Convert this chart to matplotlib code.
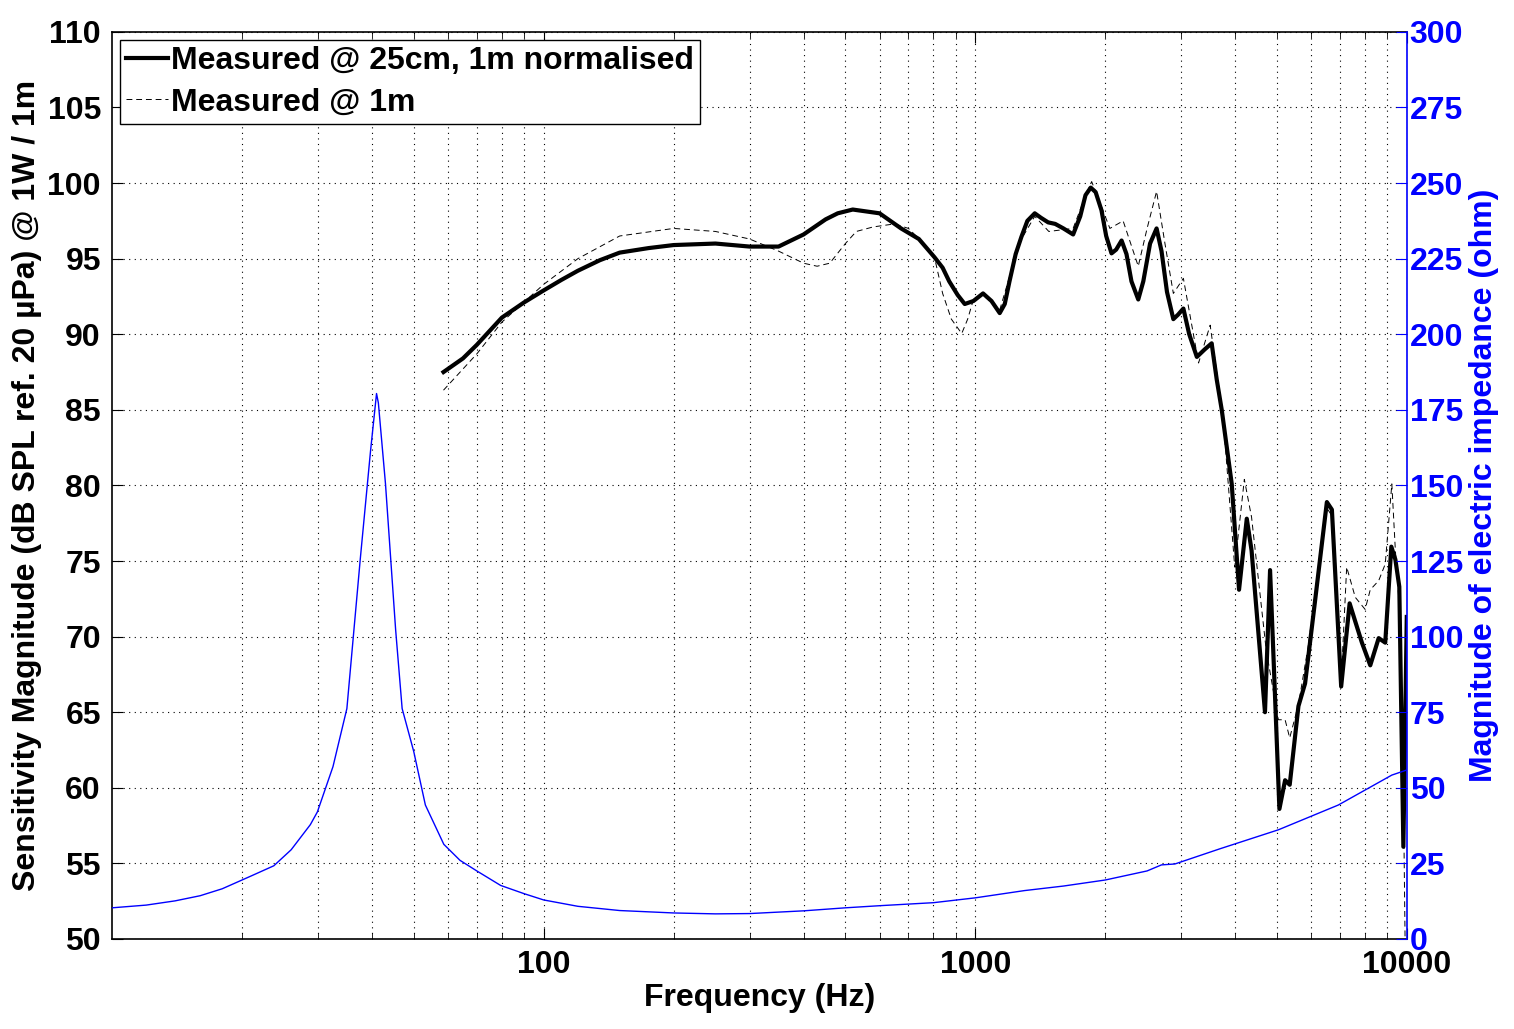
import matplotlib
matplotlib.use("Agg")
import matplotlib.pyplot as plt
from matplotlib.ticker import LogLocator, NullFormatter, FixedLocator, FixedFormatter

# ================== DATA ==================
# electric impedance (ohm), right axis
imp_freq = [10, 12, 14, 16, 18, 20.9, 23.7, 26, 28.8, 29.9, 32.5, 35.0, 37.6, 39.7,
            41.0, 41.4, 43.0, 45.4, 47.0, 50, 53.2, 58.7, 64, 70, 79.5, 90, 100,
            120, 150, 200, 250, 300, 400, 500, 600, 800, 1000, 1300, 1600, 2000,
            2500, 2700, 2900, 3683, 5036, 6934, 9225, 10000]
imp_ohm = [10.3, 11.2, 12.6, 14.3, 16.6, 20.7, 24.2, 29.5, 37.8, 42.0, 57.0, 76.2,
           125.8, 161.3, 180.4, 177.3, 150.6, 102.2, 76.2, 62.0, 44.3, 31.3, 26.0,
           22.5, 17.7, 15.0, 12.9, 10.8, 9.4, 8.6, 8.3, 8.4, 9.3, 10.3, 11.0, 12.0,
           13.6, 16.0, 17.5, 19.5, 22.5, 24.5, 24.8, 29.8, 36.1, 44.3, 54.2, 55.9]

# measured @ 25cm, 1m normalised (dB)
near_freq = [58.6, 65, 70, 80, 90, 100, 110, 120, 135, 150, 175, 200, 250, 300,
             350, 400, 450, 480, 520, 600, 673, 740, 804, 840, 870, 910, 945, 990,
             1042, 1090, 1139, 1170, 1200, 1240, 1279, 1320, 1373, 1420, 1475,
             1531, 1600, 1685, 1750, 1800, 1851, 1900, 1960, 2010, 2068, 2120,
             2182, 2240, 2300, 2385, 2450, 2540, 2630, 2700, 2780, 2876, 2950,
             3034, 3130, 3260, 3400, 3528, 3625, 3723, 3927, 4083, 4255, 4365,
             4689, 4818, 4900, 5064, 5220, 5350, 5605, 5807, 6127, 6523, 6700,
             7040, 7365, 7590, 7864, 8222, 8600, 8906, 9200, 9400, 9600, 9810, 9990]
near_db = [87.5, 88.4, 89.3, 91.1, 92.1, 92.9, 93.6, 94.2, 94.9, 95.4, 95.7, 95.9,
           96.0, 95.8, 95.8, 96.6, 97.6, 98.0, 98.25, 98.0, 97.0, 96.3, 95.1,
           94.4, 93.5, 92.6, 92.0, 92.2, 92.7, 92.2, 91.4, 92.0, 93.5, 95.3,
           96.45, 97.5, 98.0, 97.7, 97.4, 97.3, 97.0, 96.6, 97.8, 99.2, 99.7,
           99.4, 98.2, 96.5, 95.35, 95.6, 96.2, 95.3, 93.5, 92.3, 93.5, 96.0,
           97.0, 95.5, 92.8, 91.0, 91.3, 91.7, 90.0, 88.5, 89.0, 89.4, 87.0,
           85.0, 80.1, 73.1, 77.8, 75.7, 65.0, 74.4, 69.1, 58.6, 60.5, 60.2,
           65.4, 66.9, 72.4, 78.9, 78.4, 66.7, 72.2, 71.0, 69.6, 68.1, 69.9,
           69.6, 75.95, 75.1, 73.3, 56.1, 71.3]

# measured @ 1m (dB)
far_freq = [58.6, 70, 80, 100, 120, 150, 200, 250, 300, 350, 400, 430, 460, 500,
            530, 580, 650, 700, 760, 804, 840, 880, 930, 960, 990, 1042, 1139,
            1200, 1279, 1373, 1480, 1685, 1780, 1860, 1950, 2050, 2200, 2385,
            2500, 2630, 2750, 2876, 3034, 3290, 3500, 3625, 3750, 3990, 4200,
            4365, 4720, 5036, 5220, 5350, 5605, 5900, 6127, 6523, 6700, 7040,
            7250, 7590, 8000, 8222, 8600, 8906, 9225, 9400, 9600, 9810, 9990]
far_db = [86.3, 88.7, 90.8, 93.3, 95.0, 96.5, 97.0, 96.8, 96.3, 95.5, 94.7, 94.5,
          94.7, 96.0, 96.8, 97.1, 97.3, 97.0, 96.0, 95.1, 92.7, 91.0, 90.05, 91.0,
          92.3, 92.6, 91.6, 93.8, 96.3, 97.8, 96.8, 97.0, 98.8, 100.1, 98.6, 97.0,
          97.5, 94.5, 97.0, 99.45, 96.0, 92.7, 93.7, 88.1, 90.6, 87.5, 84.5, 74.6,
          80.4, 77.9, 69.1, 64.5, 64.5, 63.3, 65.5, 69.3, 72.8, 78.5, 78.0, 67.0,
          74.6, 72.6, 71.8, 73.1, 73.7, 74.8, 80.1, 75.7, 72.0, 60.0, 40.0]

x_ticks = [100, 1000, 10000]
y_ticks = list(range(50, 111, 5))
imp_ticks = list(range(0, 301, 25))

# ================== CHART ==================
plt.rcParams["font.family"] = ["Liberation Sans", "DejaVu Sans"]
plt.rcParams["font.weight"] = "bold"
plt.rcParams["axes.labelweight"] = "bold"
FS = 23

fig = plt.figure(figsize=(15.14, 10.29), dpi=100)
ax = fig.add_axes([0.074, 0.0875, 0.8553, 0.8815])

ax.semilogx(near_freq, near_db, color="black", lw=3.0, zorder=3,
            label="Measured @ 25cm, 1m normalised")
ax.semilogx(far_freq, far_db, color="black", lw=0.7, ls=(0, (6, 4)), zorder=3,
            label="Measured @ 1m")

ax.set_xlim(10, 10000)
ax.set_ylim(50, 110)
ax.set_yticks(y_ticks)
ax.tick_params(which="both", direction="in", top=True, labelsize=FS, pad=8)
ax.tick_params(which="major", length=8)
ax.tick_params(which="minor", length=4)
ax.spines["right"].set_visible(False)
for s in ["left", "top", "bottom"]:
    ax.spines[s].set_linewidth(1.2)

ax.set_xlabel("Frequency (Hz)", fontsize=FS, labelpad=2)
ax.set_ylabel("Sensitivity Magnitude (dB SPL ref. 20 µPa) @ 1W / 1m",
              fontsize=FS, labelpad=4)

leg = ax.legend(loc="upper left", fontsize=FS, frameon=True, fancybox=False,
                edgecolor="black", framealpha=1, handlelength=1.3,
                handletextpad=0.1, borderpad=0.2, labelspacing=0.35,
                borderaxespad=0.25)
leg.get_frame().set_linewidth(1.0)

ax2 = ax.twinx()
ax2.semilogx(imp_freq, imp_ohm, color="blue", lw=1.0)
ax2.set_xlim(10, 10000)
ax2.set_ylim(0, 300)
ax2.set_yticks(imp_ticks)
ax2.tick_params(axis="y", direction="in", length=8, colors="blue",
                labelsize=FS, pad=2)
ax2.spines["right"].set_color("blue")
ax2.spines["right"].set_linewidth(1.2)
for s in ["left", "top", "bottom"]:
    ax2.spines[s].set_visible(False)
ax2.set_ylabel("Magnitude of electric impedance (ohm)", color="blue",
               fontsize=FS, labelpad=4)

# x ticks set after twinx (log scale on the twin resets the shared locator)
ax.xaxis.set_major_locator(FixedLocator(x_ticks))
ax.xaxis.set_major_formatter(FixedFormatter([str(v) for v in x_ticks]))
ax.xaxis.set_minor_locator(LogLocator(base=10, subs=range(2, 10)))
ax.xaxis.set_minor_formatter(NullFormatter())
ax.grid(which="both", axis="x", color="black", ls=(0, (1, 4)), lw=0.8)
ax.grid(which="major", axis="y", color="black", ls=(0, (1, 4)), lw=0.8)
ax.set_xlim(10, 10000)

fig.savefig("out.png", dpi=100)
plt.close(fig)
